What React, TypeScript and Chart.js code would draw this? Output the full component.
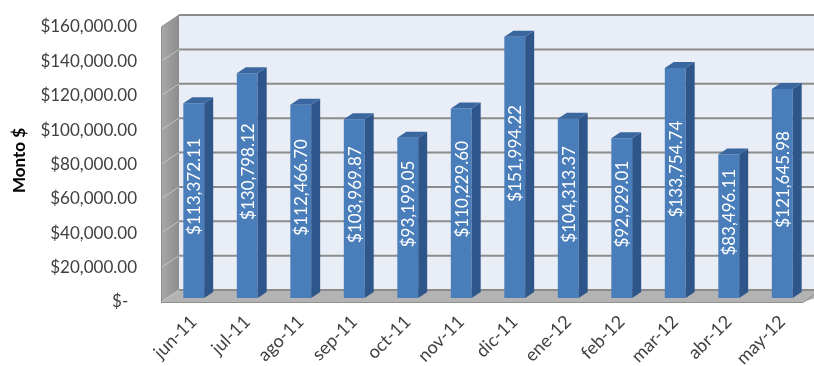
import React, { useEffect, useRef } from "react";
import { Chart, registerables } from "chart.js";

Chart.register(...registerables);

const categories = ["jun-11", "jul-11", "ago-11", "sep-11", "oct-11", "nov-11", "dic-11", "ene-12", "feb-12", "mar-12", "abr-12", "may-12"];
const montos = [113372.11, 130798.12, 112466.7, 103969.87, 93199.05, 110229.6, 151994.22, 104313.37, 92929.01, 133754.74, 83496.11, 121645.98];
const yMin = 0;
const yMax = 160000;
const yStep = 20000;
const yAxisTitle = "Monto $";

const FONT = "Lato, 'Open Sans', sans-serif";

function fmtMoney(v: number): string {
  if (v === 0) return "$-  ";
  return "$" + v.toLocaleString("en-US", { minimumFractionDigits: 2, maximumFractionDigits: 2 });
}

// depth offsets relative to the bar (front-face) plane
const FRONT = { dx: -6, dy: 4 };
const BACK = { dx: 12, dy: -8 };
const BAR_DEPTH = { dx: 9, dy: -6 };

const threeD = {
  id: "threeD",
  beforeDatasetsDraw(chart: any) {
    const { ctx, chartArea, scales } = chart;
    const y = scales.y;
    const L = chartArea.left;
    const R = chartArea.right;
    const T = y.getPixelForValue(yMax);
    const Bo = y.getPixelForValue(yMin);
    ctx.save();
    // back wall
    ctx.fillStyle = "#e9edf5";
    ctx.fillRect(L + BACK.dx, T + BACK.dy, R - L + 40, Bo - T);
    // left wall
    const g = ctx.createLinearGradient(L + FRONT.dx, 0, L + BACK.dx, 0);
    g.addColorStop(0, "#a9a9a9");
    g.addColorStop(1, "#8c8c8c");
    ctx.fillStyle = g;
    ctx.beginPath();
    ctx.moveTo(L + FRONT.dx, T + FRONT.dy);
    ctx.lineTo(L + BACK.dx, T + BACK.dy);
    ctx.lineTo(L + BACK.dx, Bo + BACK.dy);
    ctx.lineTo(L + FRONT.dx, Bo + FRONT.dy);
    ctx.closePath();
    ctx.fill();
    // floor
    ctx.fillStyle = "#b3b3b3";
    ctx.beginPath();
    ctx.moveTo(L + FRONT.dx, Bo + FRONT.dy);
    ctx.lineTo(L + BACK.dx, Bo + BACK.dy);
    ctx.lineTo(R + BACK.dx + 20, Bo + BACK.dy);
    ctx.lineTo(R + FRONT.dx, Bo + FRONT.dy);
    ctx.closePath();
    ctx.fill();
    ctx.strokeStyle = "#8f8f8f";
    ctx.lineWidth = 1;
    ctx.beginPath();
    ctx.moveTo(L + FRONT.dx, Bo + FRONT.dy + 0.5);
    ctx.lineTo(R + FRONT.dx, Bo + FRONT.dy + 0.5);
    ctx.lineTo(R + BACK.dx, Bo + BACK.dy);
    ctx.stroke();
    // grid lines
    for (let v = yMin; v <= yMax; v += yStep) {
      const py = y.getPixelForValue(v);
      ctx.strokeStyle = "#8c8c8c";
      ctx.lineWidth = 2;
      ctx.beginPath();
      ctx.moveTo(L + BACK.dx, py + BACK.dy);
      ctx.lineTo(R + BACK.dx + 20, py + BACK.dy);
      ctx.stroke();
      ctx.strokeStyle = "#c4c4c4";
      ctx.lineWidth = 1;
      ctx.beginPath();
      ctx.moveTo(L + FRONT.dx, py + FRONT.dy);
      ctx.lineTo(L + BACK.dx, py + BACK.dy);
      ctx.stroke();
    }
    // wall outline
    ctx.strokeStyle = "#8c8c8c";
    ctx.lineWidth = 1;
    ctx.beginPath();
    ctx.moveTo(L + FRONT.dx + 0.5, Bo + FRONT.dy);
    ctx.lineTo(L + FRONT.dx + 0.5, T + FRONT.dy);
    ctx.lineTo(L + BACK.dx, T + BACK.dy);
    ctx.stroke();
    ctx.restore();
  },
  afterDatasetsDraw(chart: any) {
    const { ctx } = chart;
    const meta = chart.getDatasetMeta(0);
    ctx.save();
    meta.data.forEach((el: any, i: number) => {
      const { x, y, base, width } = el.getProps(["x", "y", "base", "width"], true);
      const left = x - width / 2;
      const right = x + width / 2;
      // side face
      ctx.fillStyle = "#2f568a";
      ctx.beginPath();
      ctx.moveTo(right, y);
      ctx.lineTo(right + BAR_DEPTH.dx, y + BAR_DEPTH.dy);
      ctx.lineTo(right + BAR_DEPTH.dx, base + BAR_DEPTH.dy);
      ctx.lineTo(right, base);
      ctx.closePath();
      ctx.fill();
      // top face
      ctx.fillStyle = "#3a679f";
      ctx.beginPath();
      ctx.moveTo(left, y);
      ctx.lineTo(left + BAR_DEPTH.dx, y + BAR_DEPTH.dy);
      ctx.lineTo(right + BAR_DEPTH.dx, y + BAR_DEPTH.dy);
      ctx.lineTo(right, y);
      ctx.closePath();
      ctx.fill();
      // data label
      const cy = (y + base) / 2 - 14;
      ctx.save();
      ctx.translate(x, cy);
      ctx.rotate(-Math.PI / 2);
      ctx.fillStyle = "#ffffff";
      ctx.font = `17px ${FONT}`;
      ctx.textAlign = "center";
      ctx.textBaseline = "middle";
      ctx.fillText(fmtMoney(montos[i]), 0, 1);
      ctx.restore();
    });
    ctx.restore();
  },
};

export default function App() {
  const ref = useRef<HTMLCanvasElement>(null);
  useEffect(() => {
    if (!ref.current) return;
    const chart = new Chart(ref.current, {
      type: "bar",
      data: {
        labels: categories,
        datasets: [
          {
            label: yAxisTitle,
            data: montos,
            backgroundColor: "#4a7ebb",
            borderWidth: 0,
            barPercentage: 0.39,
            categoryPercentage: 1,
          },
        ],
      },
      options: {
        responsive: false,
        animation: false,
        layout: { padding: { top: 23, right: 5, left: 0, bottom: 0 } },
        plugins: {
          legend: { display: false },
          tooltip: { enabled: false },
        },
        scales: {
          x: {
            grid: { display: false, drawTicks: false },
            border: { display: false },
            ticks: {
              autoSkip: false,
              maxRotation: 45,
              minRotation: 45,
              padding: 13,
              color: "#404040",
              font: { family: FONT, size: 18 },
            },
            afterFit: (s: any) => {
              s.height = 68;
              s.paddingLeft = 0;
              s.paddingRight = 0;
            },
          },
          y: {
            min: yMin,
            max: yMax,
            grid: { display: false, drawTicks: false },
            border: { display: false },
            ticks: {
              stepSize: yStep,
              padding: 30,
              labelOffset: 4,
              color: "#404040",
              font: { family: FONT, size: 17 },
              callback: (v: any) => fmtMoney(Number(v)),
            },
            title: {
              display: true,
              text: yAxisTitle,
              color: "#000000",
              font: { family: FONT, size: 17, weight: "bold" },
              padding: { top: 9, bottom: 0 },
            },
            afterFit: (s: any) => {
              s.width = 167;
              s.paddingTop = 0;
              s.paddingBottom = 0;
            },
          },
        },
      },
      plugins: [threeD],
    });
    return () => chart.destroy();
  }, []);
  return (
    <div style={{ position: "absolute", left: 0, top: 0, width: 814, height: 366, background: "#fff" }}>
      <canvas ref={ref} width={814} height={366} style={{ display: "block" }} />
    </div>
  );
}
